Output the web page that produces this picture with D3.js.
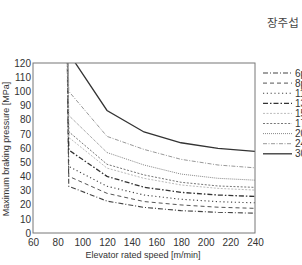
<!DOCTYPE html>
<html>
<head>
<meta charset="utf-8">
<script src="https://cdn.jsdelivr.net/npm/d3@7"></script>
<style>
  body { margin: 0; background: #fff; }
  svg { display: block; }
</style>
</head>
<body>
<div id="content"></div>
<script>
// speeds [m/min]; 86 is the steep top of each curve (goes off the chart)
const speeds = [86, 89, 120, 150, 180, 210, 240];
const p6  = [250, 33, 22.5, 18.1, 15.8, 14.6, 14.0];
const p8  = [250, 40, 28, 22.2, 19.8, 18.2, 17.4];
const p11 = [250, 47, 33, 26.8, 23.8, 22.1, 21.3];
const p13 = [250, 58.6, 40, 32.3, 28.7, 26.8, 25.8];
const p15 = [250, 67.5, 45.8, 38.6, 33.9, 31.5, 30.3];
const p17 = [250, 71.5, 48.5, 41, 35.8, 33.2, 32.2];
const p20 = [250, 83, 56.8, 48, 41.6, 38.6, 37.3];
const p24 = [250, 100, 68.2, 59, 52, 48, 46];
const p30 = [250, 127, 86.5, 71.3, 63.7, 59.8, 57.6];
const seriesNames = ["6persons", "8persons", "11persons", "13persons", "15persons",
                     "17persons", "20persons", "24persons", "30persons"];
const seriesValues = [p6, p8, p11, p13, p15, p17, p20, p24, p30];
const xTicks = [60, 80, 100, 120, 140, 160, 180, 200, 220, 240];
const yTicks = [0, 10, 20, 30, 40, 50, 60, 70, 80, 90, 100, 110, 120];

// line look for each series
const styles = [
  {color: "#444", dash: "5,2,1,2", width: 1.1},
  {color: "#555", dash: "4,3", width: 1},
  {color: "#444", dash: "1.2,2.6", width: 1.1},
  {color: "#333", dash: "5,2,1.5,2", width: 1.3},
  {color: "#bbb", dash: "2,1.5", width: 1},
  {color: "#666", dash: "2,1.6", width: 0.9},
  {color: "#888", dash: "1,1", width: 1},
  {color: "#999", dash: "4,1.5,1,1.5", width: 1},
  {color: "#333", dash: null, width: 1.3}
];

const W = 302, H = 265;
const mLeft = 33, mRight = 255, mTop = 63, mBottom = 233;

const svg = d3.select("#content").append("svg").attr("width", W).attr("height", H);

const x = d3.scaleLinear().domain([60, 240]).range([mLeft, mRight]);
const y = d3.scaleLinear().domain([0, 120]).range([mBottom, mTop]);

svg.append("clipPath").attr("id", "plotclip")
  .append("rect")
  .attr("x", mLeft).attr("y", mTop)
  .attr("width", mRight - mLeft).attr("height", mBottom - mTop);

const line = d3.line()
  .x((d, i) => x(speeds[i]))
  .y(d => y(d));

svg.append("g").attr("clip-path", "url(#plotclip)")
  .selectAll("path")
  .data(seriesValues)
  .join("path")
  .attr("d", d => line(d))
  .attr("fill", "none")
  .attr("stroke", (d, i) => styles[i].color)
  .attr("stroke-width", (d, i) => styles[i].width)
  .attr("stroke-dasharray", (d, i) => styles[i].dash);

// frame
svg.append("rect")
  .attr("x", mLeft).attr("y", mTop)
  .attr("width", mRight - mLeft).attr("height", mBottom - mTop)
  .attr("fill", "none")
  .attr("stroke", "#777")
  .attr("stroke-width", 1);

const xAxis = svg.append("g")
  .attr("transform", "translate(0," + mBottom + ")")
  .call(d3.axisBottom(x).tickValues(xTicks).tickSize(0).tickPadding(6));
const yAxis = svg.append("g")
  .attr("transform", "translate(" + mLeft + ",0)")
  .call(d3.axisLeft(y).tickValues(yTicks).tickSize(0).tickPadding(2));
[xAxis, yAxis].forEach(a => {
  a.select(".domain").remove();
  a.selectAll("text")
    .attr("fill", "#333")
    .style("font-family", "Liberation Sans, Arial, sans-serif")
    .style("font-size", "10px");
});

svg.append("text")
  .attr("x", 143).attr("y", 258)
  .attr("text-anchor", "middle")
  .attr("fill", "#333")
  .style("font-family", "Liberation Sans, Arial, sans-serif")
  .style("font-size", "9px")
  .text("Elevator rated speed [m/min]");

svg.append("text")
  .attr("transform", "translate(9,149) rotate(-90)")
  .attr("text-anchor", "middle")
  .attr("fill", "#333")
  .style("font-family", "Liberation Sans, Arial, sans-serif")
  .style("font-size", "9px")
  .text("Maximum braking pressure [MPa]");

// legend (cut off by the right edge like the original)
const legend = svg.append("g")
  .selectAll("g")
  .data(seriesNames)
  .join("g")
  .attr("transform", (d, i) => "translate(263," + (73 + i * 10.1) + ")");
legend.append("line")
  .attr("x1", 0).attr("x2", 29)
  .attr("stroke", (d, i) => styles[i].color)
  .attr("stroke-width", (d, i) => styles[i].width)
  .attr("stroke-dasharray", (d, i) => styles[i].dash);
legend.append("text")
  .attr("x", 32).attr("y", 3.5)
  .attr("fill", "#333")
  .style("font-family", "Liberation Sans, Arial, sans-serif")
  .style("font-size", "10px")
  .text(d => d);

svg.append("text")
  .attr("x", 267).attr("y", 27)
  .attr("fill", "#444")
  .style("font-family", "Noto Sans CJK KR")
  .style("font-size", "11.5px")
  .text("장주섭");
</script>
</body>
</html>
